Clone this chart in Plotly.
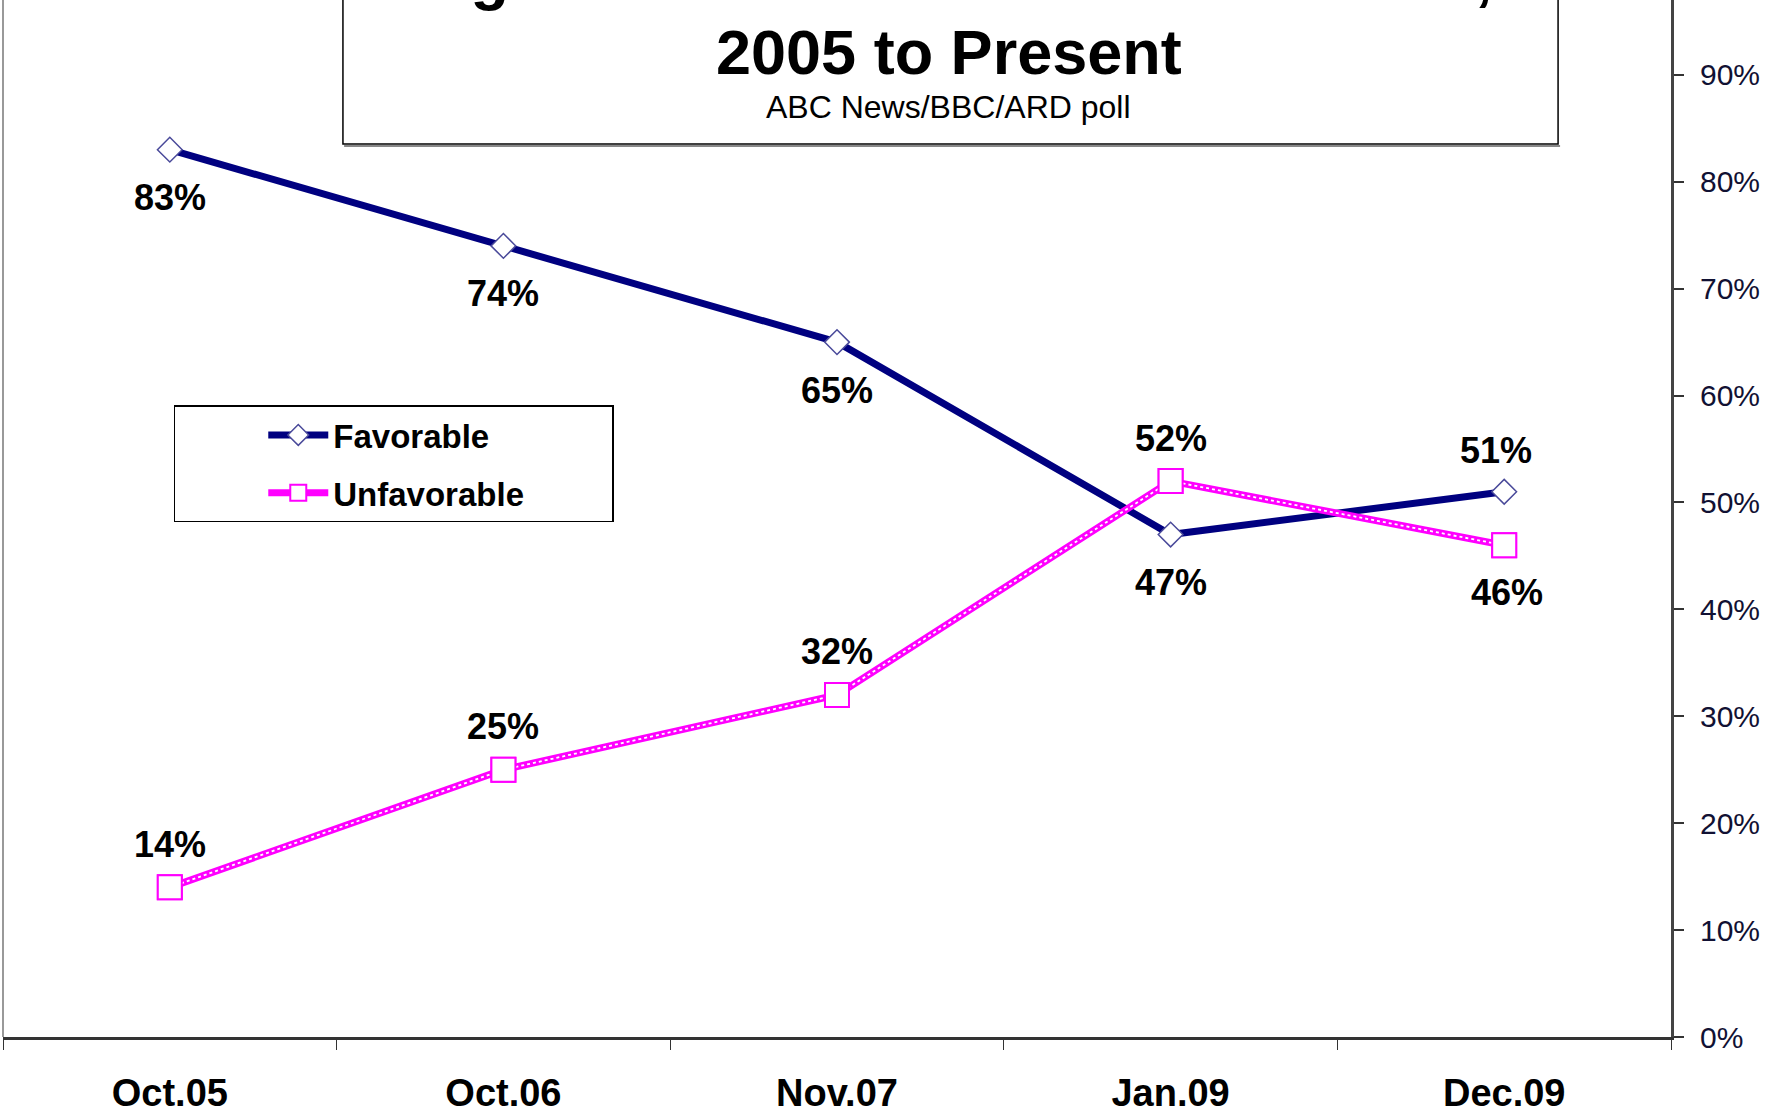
import plotly.graph_objects as go

categories = ["Oct.05", "Oct.06", "Nov.07", "Jan.09", "Dec.09"]
favorable = [83, 74, 65, 47, 51]
unfavorable = [14, 25, 32, 52, 46]
fav_label_side = ["below", "below", "below", "below", "above"]
unf_label_side = ["above", "above", "above", "above", "below"]
y_ticks = [0, 10, 20, 30, 40, 50, 60, 70, 80, 90]
title_lines = ["Afghans' Views of the United States,", "2005 to Present"]
subtitle = "ABC News/BBC/ARD poll"

FONT = "Liberation Sans"
NAVY = "#000080"
MAGENTA = "#FF00FF"
PAD = "\u00a0" * 9

fig = go.Figure()
fig.add_trace(go.Scatter(
    x=categories, y=favorable, name="Favorable" + PAD, mode="lines+markers",
    legendgroup="a",
    line=dict(color=NAVY, width=7),
    marker=dict(symbol="diamond", size=19, color="white",
                line=dict(color="#4a4a9a", width=1.5)),
))
fig.add_trace(go.Scatter(
    x=categories, y=unfavorable, name="Unfavorable" + PAD, mode="lines+markers",
    legendgroup="b",
    line=dict(color=MAGENTA, width=7),
    marker=dict(symbol="square", size=24, color="white",
                line=dict(color=MAGENTA, width=2)),
))
fig.add_trace(go.Scatter(
    x=categories, y=unfavorable, mode="lines", showlegend=False, legendgroup="b",
    line=dict(color="white", width=1.8, dash="dot"), hoverinfo="skip",
))
fig.add_trace(go.Scatter(
    x=categories, y=unfavorable, mode="markers", showlegend=False, legendgroup="b",
    marker=dict(symbol="square", size=24, color="white",
                line=dict(color=MAGENTA, width=2)),
    hoverinfo="skip",
))

annotations = []
for cat, v, side in zip(categories, favorable, fav_label_side):
    annotations.append(dict(x=cat, y=v, text=f"{v}%", showarrow=False,
                            yshift=-48 if side == "below" else 41,
                            xshift=-8 if side == "above" else 0,
                            font=dict(family=FONT, size=36, color="black", weight="bold")))
for cat, v, side in zip(categories, unfavorable, unf_label_side):
    annotations.append(dict(x=cat, y=v, text=f"{v}%", showarrow=False,
                            yshift=43 if side == "above" else -47,
                            xshift=3 if side == "below" else 0,
                            font=dict(family=FONT, size=36, color="black", weight="bold")))

annotations.append(dict(xref="paper", yref="paper", x=0.567, y=1.023, text=title_lines[0],
                        showarrow=False, yanchor="middle",
                        font=dict(family=FONT, size=63, color="black", weight="bold")))
annotations.append(dict(xref="paper", yref="paper", x=0.567, y=0.950, text=title_lines[1],
                        showarrow=False, yanchor="middle",
                        font=dict(family=FONT, size=63, color="black", weight="bold")))
annotations.append(dict(xref="paper", yref="paper", x=0.567, y=0.897, text=subtitle,
                        showarrow=False, yanchor="middle",
                        font=dict(family=FONT, size=32, color="black")))

shapes = [
    dict(type="line", xref="paper", yref="paper", x0=0.2045, x1=0.9335, y0=0.8592, y1=0.8592,
         line=dict(color="#888888", width=2), layer="above"),
    dict(type="rect", xref="paper", yref="paper", x0=0.2038, x1=0.9323, y0=0.8611, y1=1.2,
         line=dict(color="black", width=1.5), fillcolor="white", layer="above"),
    dict(type="line", xref="paper", yref="paper", x0=0, x1=0, y0=0, y1=1,
         line=dict(color="#777777", width=1.5)),
]

fig.update_layout(
    width=1787, height=1117,
    paper_bgcolor="white", plot_bgcolor="white",
    margin=dict(l=3, r=116, t=0, b=80, autoexpand=False),
    showlegend=True,
    legend=dict(x=0.1025, y=0.609, xanchor="left", yanchor="top",
                bordercolor="black", borderwidth=1.5, bgcolor="white",
                font=dict(family=FONT, size=33, color="black", weight="bold"),
                itemwidth=60, tracegroupgap=12, traceorder="grouped",
                title=dict(text="\u00a0" * 14, side="left", font=dict(size=20))),
    xaxis=dict(range=[-0.5, 4.5], showgrid=False, zeroline=False, automargin=False,
               showline=True, linecolor="#333333", linewidth=2.5,
               ticks="outside", tickson="boundaries", ticklen=10, tickcolor="#333333",
               tickwidth=1, ticklabelstandoff=21,
               tickfont=dict(family=FONT, size=38, color="black", weight="bold")),
    yaxis=dict(range=[0, 97], side="right", showgrid=False, zeroline=False, automargin=False,
               showline=True, linecolor="#444444", linewidth=3,
               ticks="outside", ticklen=10, tickcolor="#333333", tickwidth=1.5,
               tickvals=y_ticks, ticktext=[f"{t}%" for t in y_ticks],
               ticklabelstandoff=10,
               tickfont=dict(family=FONT, size=30, color="#111133")),
    annotations=annotations,
    shapes=shapes,
)
fig.write_html("out.html", config={"displayModeBar": False},
               post_script="document.body.style.margin='0';document.body.style.overflow='hidden';")
